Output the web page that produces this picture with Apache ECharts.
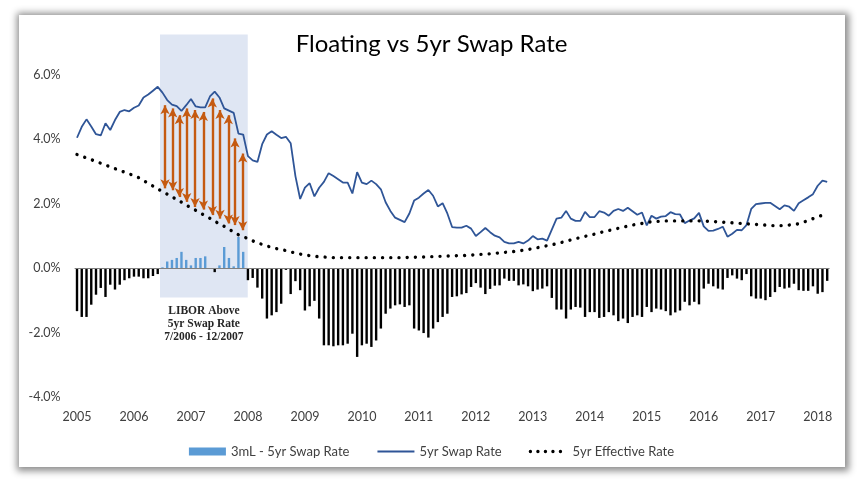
<!DOCTYPE html>
<html><head><meta charset="utf-8">
<script src="https://cdn.jsdelivr.net/npm/echarts@6/dist/echarts.min.js"></script>
<style>
html,body{margin:0;padding:0;background:#fff;width:863px;height:483px;overflow:hidden}
#frame{position:absolute;left:19px;top:15px;width:826px;height:452px;background:#fff;box-shadow:1px 1px 7px 3px rgba(0,0,0,0.45)}
#chart{position:absolute;left:0;top:0;width:863px;height:483px}
</style></head><body>
<div id="frame"></div><div id="chart"></div>
<script>
// Monthly observations, Jan 2005 (index 0) .. Mar 2018 (index 158)
const startYear = 2005;
const yearTicks = [0,12,24,36,48,60,72,84,96,108,120,132,144,156];

const swapRate = [
 4.05,4.39,4.62,4.40,4.16,4.12,4.50,4.29,4.60,4.85,4.91,4.87,
 4.98,5.05,5.30,5.39,5.51,5.63,5.45,5.22,5.08,5.03,4.88,5.06,
 5.25,5.02,4.99,4.99,5.33,5.48,5.30,4.96,4.89,4.82,4.18,4.15,
 3.48,3.35,3.30,3.85,4.15,4.25,4.14,4.04,4.08,3.88,2.86,2.15,
 2.50,2.64,2.23,2.50,2.68,2.95,2.86,2.76,2.66,2.66,2.32,2.98,
 2.66,2.61,2.72,2.61,2.45,2.05,1.78,1.57,1.50,1.43,1.70,2.10,
 2.19,2.32,2.43,2.25,1.92,2.02,1.70,1.28,1.26,1.26,1.32,1.23,
 1.00,1.12,1.25,1.12,1.01,0.96,0.82,0.77,0.77,0.82,0.77,0.86,
 1.00,0.90,0.92,0.86,1.20,1.54,1.57,1.78,1.54,1.47,1.47,1.75,
 1.59,1.59,1.77,1.73,1.63,1.78,1.84,1.78,1.88,1.77,1.66,1.73,
 1.33,1.63,1.54,1.60,1.62,1.74,1.68,1.67,1.40,1.48,1.55,1.72,
 1.30,1.16,1.17,1.22,1.29,0.98,1.07,1.19,1.18,1.34,1.84,1.99,
 2.01,2.03,2.03,1.93,1.83,1.95,1.91,1.78,2.02,2.11,2.20,2.30,
 2.56,2.72,2.68
];

const effectiveRate = [
 3.53,3.48,3.42,3.37,3.31,3.26,3.20,3.15,3.09,3.04,2.98,2.93,
 2.87,2.81,2.72,2.64,2.55,2.46,2.38,2.30,2.22,2.13,2.05,1.96,
 1.88,1.80,1.71,1.63,1.55,1.46,1.38,1.30,1.21,1.13,1.04,0.98,
 0.92,0.85,0.79,0.74,0.69,0.65,0.61,0.58,0.55,0.51,0.47,0.44,
 0.41,0.39,0.37,0.36,0.35,0.34,0.33,0.33,0.33,0.33,0.33,0.33,
 0.33,0.33,0.33,0.33,0.33,0.33,0.33,0.33,0.33,0.33,0.34,0.34,
 0.35,0.35,0.36,0.36,0.37,0.37,0.38,0.38,0.39,0.39,0.40,0.41,
 0.42,0.43,0.44,0.45,0.46,0.48,0.49,0.51,0.52,0.54,0.56,0.58,
 0.61,0.64,0.67,0.70,0.73,0.76,0.80,0.84,0.88,0.92,0.95,0.99,
 1.02,1.06,1.10,1.14,1.17,1.21,1.24,1.27,1.31,1.34,1.37,1.39,
 1.42,1.44,1.45,1.46,1.47,1.47,1.47,1.47,1.47,1.47,1.47,1.47,
 1.46,1.46,1.45,1.44,1.43,1.42,1.41,1.40,1.39,1.38,1.37,1.36,
 1.35,1.34,1.33,1.32,1.32,1.33,1.34,1.36,1.38,1.43,1.48,1.54,
 1.59,1.65,1.70
];

const liborMinusSwap = [
 -1.33,-1.51,-1.51,-1.13,-0.82,-0.61,-0.89,-0.51,-0.66,-0.51,-0.37,-0.31,
 -0.26,-0.26,-0.31,-0.31,-0.24,-0.18,0.03,0.21,0.26,0.32,0.51,0.26,
 0.09,0.32,0.32,0.37,0.00,-0.12,0.09,0.66,0.32,0.06,0.97,0.51,
 -0.37,-0.30,-0.60,-0.94,-1.56,-1.46,-1.36,-1.10,-0.05,-0.80,-0.40,-0.68,
 -1.31,-1.18,-1.01,-1.56,-2.39,-2.39,-2.42,-2.39,-2.39,-2.34,-2.03,-2.75,
 -2.39,-2.34,-2.44,-2.24,-1.87,-1.41,-1.25,-1.15,-1.12,-1.20,-1.15,-1.87,
 -1.93,-2.01,-2.15,-1.87,-1.67,-1.51,-1.41,-0.89,-0.87,-0.81,-0.77,-0.58,
 -0.46,-0.60,-0.80,-0.64,-0.54,-0.53,-0.32,-0.39,-0.39,-0.53,-0.50,-0.56,
 -0.71,-0.66,-0.63,-0.56,-0.92,-1.28,-1.28,-1.56,-1.28,-1.20,-1.22,-1.51,
 -1.36,-1.36,-1.54,-1.51,-1.36,-1.46,-1.64,-1.56,-1.70,-1.51,-1.46,-1.51,
 -1.20,-1.36,-1.25,-1.28,-1.33,-1.46,-1.37,-1.31,-1.04,-1.15,-1.04,-1.12,
 -0.63,-0.48,-0.56,-0.63,-0.66,-0.30,-0.22,-0.32,-0.37,-0.18,-0.87,-0.94,
 -0.94,-0.99,-0.89,-0.74,-0.58,-0.63,-0.60,-0.48,-0.68,-0.70,-0.70,-0.56,
 -0.79,-0.74,-0.39
];

// Annotation: LIBOR above swap period (month index range, value range)
const shadeX = [17.48, 35.96];
const shadeY = [-0.91, 7.25];
const shadeText = ['LIBOR Above', '5yr Swap Rate', '7/2006 - 12/2007'];

// Double-headed arrows (month index, top value, bottom value)
const arrowPos    = [18.54, 20.16, 21.55, 23.11, 24.86, 26.61, 28.50, 30.12, 31.87, 33.28, 34.90];
const arrowTop    = [5.06, 4.96, 4.75, 4.96, 4.91, 4.85, 5.27, 4.91, 4.75, 4.03, 3.56];
const arrowBottom = [2.48, 2.42, 2.21, 2.06, 1.90, 1.82, 1.65, 1.54, 1.39, 1.34, 1.18];

const yTicks = [-4, -2, 0, 2, 4, 6];

const FONT = 'Lato';
const toPairs = arr => arr.map((v, i) => [i, v]);
const HIDDEN = {color: 'rgba(0,0,0,0)', borderWidth: 0, opacity: 0};

const chart = echarts.init(document.getElementById('chart'), null, {renderer: 'canvas'});
chart.setOption({
  animation: false,
  title: {
    text: 'Floating vs 5yr Swap Rate', left: 'center', top: 27,
    textStyle: {fontFamily: FONT, fontSize: 24, fontWeight: 'normal', color: '#000'}
  },
  legend: {
    top: 440, left: 'center', itemWidth: 37, itemHeight: 8, itemGap: 27,
    textStyle: {fontFamily: FONT, fontSize: 13, color: '#404040'},
    data: [
      {name: '3mL - 5yr Swap Rate', icon: 'rect', itemStyle: {color: '#5B9BD5'}},
      {name: '5yr Swap Rate', itemStyle: HIDDEN, lineStyle: {width: 2, color: '#2F5597'}},
      {name: '5yr Effective Rate', itemStyle: HIDDEN,
       lineStyle: {width: 3.4, color: '#000', type: [0.01, 7.5], cap: 'round'}}
    ]
  },
  grid: {left: 74.63, right: 33.43, top: 34.6, bottom: 85.8},
  xAxis: {
    type: 'value', min: -0.5, max: 158.5,
    axisLine: {show: false, onZero: false}, axisTick: {show: false}, splitLine: {show: false},
    axisLabel: {
      customValues: yearTicks, formatter: v => String(startYear + Math.round(v / 12)),
      margin: 13, fontFamily: FONT, fontSize: 12.5, color: '#404040'
    }
  },
  yAxis: {
    type: 'value', min: -4, max: 7.25,
    axisLine: {show: false}, axisTick: {show: false}, splitLine: {show: false},
    axisLabel: {
      customValues: yTicks, formatter: v => v.toFixed(1) + '%',
      margin: 14, fontFamily: FONT, fontSize: 12.5, color: '#404040'
    }
  },
  series: [
    {
      name: '3mL - 5yr Swap Rate', type: 'bar', data: toPairs(liborMinusSwap), barWidth: 2.4, z: 2,
      itemStyle: {color: p => (p.value[1] >= 0 ? '#5B9BD5' : '#000000')},
      markArea: {
        silent: true, itemStyle: {color: '#DFE6F3'},
        label: {
          show: true, position: 'bottom', distance: 7,
          formatter: shadeText.join('\n'),
          fontFamily: 'Liberation Serif', fontWeight: 'bold', fontSize: 11.5, lineHeight: 13, color: '#262626'
        },
        data: [[{coord: [shadeX[0], shadeY[1]]}, {coord: [shadeX[1], shadeY[0]]}]]
      },
      markLine: {
        silent: true, symbol: 'none', label: {show: false},
        lineStyle: {color: '#808080', width: 1, type: 'solid'},
        data: [{yAxis: 0}]
      }
    },
    {
      name: '5yr Swap Rate', type: 'line', data: toPairs(swapRate), symbol: 'none', z: 4,
      lineStyle: {color: '#2F5597', width: 1.8}, itemStyle: {color: '#2F5597'},
      markLine: {
        silent: true, symbol: ['arrow', 'arrow'], symbolSize: [7, 9], label: {show: false},
        lineStyle: {color: '#C55A11', width: 2.4, type: 'solid'},
        data: arrowPos.map((p, k) => [{coord: [p, arrowTop[k]]}, {coord: [p, arrowBottom[k]]}])
      }
    },
    {
      name: '5yr Effective Rate', type: 'line', data: toPairs(effectiveRate), symbol: 'none', z: 5,
      lineStyle: {color: '#000', width: 3.4, type: [0.01, 8.2], cap: 'round'}, itemStyle: {color: '#000'}
    }
  ]
});
</script>
</body></html>
